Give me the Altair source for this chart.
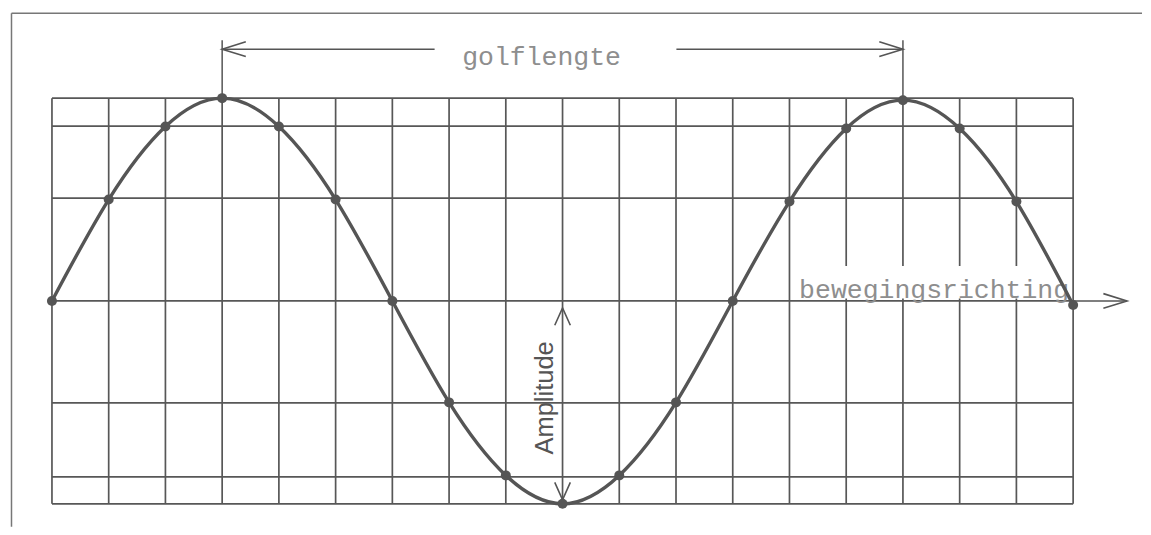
import altair as alt
import pandas as pd

# --- data ---
wave_x = list(range(19))
wave_y = [0.0, 0.50, 0.86, 1.0, 0.86, 0.50, 0.0, -0.50, -0.86, -1.0, -0.86,
          -0.50, 0.0, 0.49, 0.85, 0.99, 0.85, 0.49, -0.02]
grid_x = list(range(19))
grid_y = [1.0, 0.862, 0.507, 0.0, -0.502, -0.867, -1.0]

label_wave = "golflengte"
label_dir = "bewegingsrichting"
label_amp = "Amplitude"

W, H = 1135, 519
XD = [-0.7749, 19.214]
YD = [-1.1133, 1.4433]

xs = alt.Scale(domain=XD, nice=False, zero=False)
ys = alt.Scale(domain=YD, nice=False, zero=False)

GRID = "#575757"
INK = "#555555"
TXT = "#8e8e8e"

wave = pd.DataFrame({"x": wave_x, "y": wave_y})
vgrid = pd.DataFrame({"x": grid_x, "y": -1.0, "y2": 1.0})
hgrid = pd.DataFrame({"y": grid_y, "x": 0, "x2": 18})

def X(f="x"):
    return alt.X(f"{f}:Q", scale=xs, axis=None)

def Y(f="y"):
    return alt.Y(f"{f}:Q", scale=ys, axis=None)

base_v = alt.Chart(vgrid).mark_rule(color=GRID, strokeWidth=1.7).encode(
    x=X(), y=Y(), y2="y2:Q")

# white box behind the direction label (cuts the grid lines)
box = alt.Chart(pd.DataFrame({"x": [13.05], "x2": [17.95], "y": [0.012], "y2": [0.172]})).mark_rect(
    color="white").encode(x=X(), x2="x2:Q", y=Y(), y2="y2:Q")

base_h = alt.Chart(hgrid).mark_rule(color=GRID, strokeWidth=1.7).encode(
    x=X(), x2="x2:Q", y=Y())

# frame (left and top)
frame = pd.DataFrame({"x": [-0.7133, -0.7133], "x2": [-0.7133, XD[1]],
                      "y": [YD[0], 1.4187], "y2": [1.4187, 1.4187]})
frame_r = alt.Chart(frame).mark_rule(color="#777777", strokeWidth=1.5).encode(
    x=X(), x2="x2:Q", y=Y(), y2="y2:Q")

# annotation lines
ann = pd.DataFrame({
    "x":  [3.0, 11.007, 3.0, 15.0, 18.0],
    "x2": [6.745, 15.0, 3.0, 15.0, 18.95],
    "y":  [1.2414, 1.2414, 1.2857, 1.2857, 0.0],
    "y2": [1.2414, 1.2414, 1.0, 1.0, 0.0],
})
ann_r = alt.Chart(ann).mark_rule(color=INK, strokeWidth=1.5).encode(
    x=X(), x2="x2:Q", y=Y(), y2="y2:Q")

chev = "M -2 -0.62 L 0 0 L -2 0.62"
heads = pd.DataFrame({"x": [3.0, 15.0, 18.95], "y": [1.2414, 1.2414, 0.0],
                      "a": [180, 0, 0]})
heads_r = alt.Chart(heads).mark_point(shape=chev, filled=False, color=INK,
                                      strokeWidth=1.6, size=560, opacity=1).encode(
    x=X(), y=Y(), angle=alt.Angle("a:Q", scale=None))

chev2 = "M -2 -0.9 L 0 0 L -2 0.9"
heads2 = pd.DataFrame({"x": [9.0, 9.0], "y": [-0.0345, -0.98], "a": [270, 90]})
heads2_r = alt.Chart(heads2).mark_point(shape=chev2, filled=False, color=INK,
                                        strokeWidth=1.6, size=300, opacity=1).encode(
    x=X(), y=Y(), angle=alt.Angle("a:Q", scale=None))

t_wave = alt.Chart(pd.DataFrame({"x": [8.63], "y": [1.205], "t": [label_wave]})).mark_text(
    font="Liberation Mono", fontSize=26.5, color=TXT, align="center", baseline="middle").encode(
    x=X(), y=Y(), text="t:N")

t_dir = alt.Chart(pd.DataFrame({"x": [13.17], "y": [0.0148], "t": [label_dir]})).mark_text(
    font="Liberation Mono", fontSize=26.5, color=TXT, align="left", baseline="alphabetic").encode(
    x=X(), y=Y(), text="t:N")

t_amp = alt.Chart(pd.DataFrame({"x": [8.683], "y": [-0.478], "t": [label_amp]})).mark_text(
    font="Liberation Sans", fontSize=25.5, color=INK, align="center", baseline="middle",
    angle=270).encode(x=X(), y=Y(), text="t:N")

curve = alt.Chart(wave).mark_line(color=INK, strokeWidth=3.4, interpolate="natural").encode(
    x=X(), y=Y())
pts = alt.Chart(wave).mark_circle(color=INK, size=100, opacity=1).encode(x=X(), y=Y())

chart = alt.layer(
    base_v, box, base_h, frame_r, ann_r, heads_r, heads2_r, t_wave, t_dir, t_amp, curve, pts
).properties(width=W, height=H, padding=0, background="white").configure_view(stroke=None)

chart.save("out.html", embed_options={"renderer": "svg", "actions": False})
